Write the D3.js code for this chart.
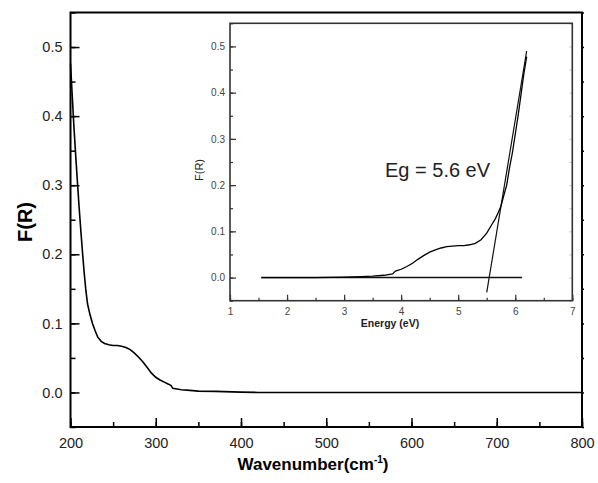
<!DOCTYPE html>
<html>
<head>
<meta charset="utf-8">
<script src="https://cdn.jsdelivr.net/npm/d3@7"></script>
<style>
  body { margin: 0; background: #fff; }
  svg { display: block; font-family: "Liberation Sans", Arial, sans-serif; }
  .tick text { fill: #222; }
  .inset .tick text { fill: #444; }
</style>
</head>
<body>
<svg id="chart" width="598" height="483"></svg>
<script>
// main spectrum, F(R) vs wavenumber
var wavenumber = [200, 202, 204, 206, 208, 210, 212, 214, 216, 218, 220, 223, 226, 229, 232, 236, 240, 245, 250, 255, 260, 265, 270, 275, 280, 285, 290, 295, 300, 305, 310, 315, 318, 320, 325, 330, 340, 350, 370, 400, 420, 500, 600, 700, 800];
var fr = [0.476, 0.43, 0.385, 0.345, 0.307, 0.27, 0.236, 0.204, 0.174, 0.148, 0.128, 0.112, 0.099, 0.089, 0.080, 0.074, 0.071, 0.069, 0.068, 0.068, 0.067, 0.065, 0.062, 0.057, 0.051, 0.044, 0.036, 0.028, 0.022, 0.018, 0.015, 0.012, 0.010, 0.006, 0.005, 0.004, 0.003, 0.002, 0.0015, 0.0005, 0, 0, 0, 0, 0];

// inset, F(R) vs energy
var energy = [1.55, 2.5, 3.0, 3.3, 3.5, 3.7, 3.85, 3.9, 4.0, 4.1, 4.2, 4.3, 4.4, 4.5, 4.6, 4.7, 4.8, 4.9, 5.0, 5.1, 5.2, 5.3, 5.4, 5.5, 5.6, 5.65, 5.7, 5.75, 5.8, 5.85, 5.9, 5.95, 6.0, 6.05, 6.1, 6.15, 6.2];
var frEnergy = [0, 0, 0.001, 0.002, 0.003, 0.005, 0.008, 0.014, 0.018, 0.024, 0.031, 0.040, 0.048, 0.055, 0.060, 0.064, 0.067, 0.068, 0.069, 0.069, 0.071, 0.074, 0.082, 0.096, 0.117, 0.127, 0.140, 0.155, 0.178, 0.200, 0.238, 0.270, 0.310, 0.350, 0.395, 0.440, 0.478];

// baseline and tangent used to read the band gap
var baseX = [1.55, 6.12], baseY = [0, 0];
var fitX = [5.50, 6.20], fitY = [-0.032, 0.49];

var mainXTicks = [200, 300, 400, 500, 600, 700, 800];
var mainYTicks = [0.0, 0.1, 0.2, 0.3, 0.4, 0.5];
var insetXTicks = [1, 2, 3, 4, 5, 6, 7];
var insetYTicks = [0.0, 0.1, 0.2, 0.3, 0.4, 0.5];
var gapLabel = 'Eg = 5.6 eV';

var svg = d3.select('#chart');

// ---- main plot
var x = d3.scaleLinear().domain([200, 800]).range([70.5, 582]);
var y = d3.scaleLinear().domain([-0.05, 0.55]).range([427, 12.5]);

function minorRange(a, b, step) {
  return d3.range(a, b + step / 2, step);
}

var gx = svg.append('g').attr('transform', 'translate(0,' + y.range()[0] + ')');
gx.call(d3.axisBottom(x).tickValues(minorRange(200, 800, 50)).tickFormat('').tickSize(-5).tickSizeOuter(0));
gx.append('g').call(d3.axisBottom(x).tickValues(mainXTicks).tickFormat(d3.format('d')).tickSize(-9).tickPadding(11).tickSizeOuter(0));
gx.selectAll('.domain').remove();

var gy = svg.append('g').attr('transform', 'translate(' + x.range()[0] + ',0)');
gy.call(d3.axisLeft(y).tickValues(minorRange(-0.05, 0.55, 0.05)).tickFormat('').tickSize(-5).tickSizeOuter(0));
gy.append('g').call(d3.axisLeft(y).tickValues(mainYTicks).tickFormat(d3.format('.1f')).tickSize(-9).tickPadding(8).tickSizeOuter(0));
gy.selectAll('.domain').remove();

// small outward ticks on the right edge
var gr = svg.append('g').attr('transform', 'translate(' + x.range()[1] + ',0)');
gr.call(d3.axisRight(y).tickValues(minorRange(-0.05, 0.55, 0.05)).tickFormat('').tickSize(2).tickSizeOuter(0));
gr.selectAll('.domain').remove();

svg.selectAll('.tick line').attr('stroke', '#000').attr('stroke-width', 1.5);
svg.selectAll('.tick text').style('font-size', '14.5px');

svg.append('path')
    .datum(d3.zip(wavenumber, fr))
    .attr('fill', 'none')
    .attr('stroke', '#000')
    .attr('stroke-width', 1.6)
    .attr('d', d3.line().x(function(d) { return x(d[0]); }).y(function(d) { return y(d[1]); }));

svg.append('rect')
    .attr('x', x.range()[0]).attr('y', y.range()[1])
    .attr('width', x.range()[1] - x.range()[0])
    .attr('height', y.range()[0] - y.range()[1])
    .attr('fill', 'none').attr('stroke', '#000').attr('stroke-width', 2);

svg.append('text')
    .attr('transform', 'translate(32,222) rotate(-90)')
    .attr('text-anchor', 'middle')
    .style('font-size', '20px').style('font-weight', 'bold')
    .text('F(R)');

var xt = svg.append('text')
    .attr('x', 313).attr('y', 470)
    .attr('text-anchor', 'middle')
    .style('font-size', '17px').style('font-weight', 'bold');
xt.append('tspan').text('Wavenumber(cm');
xt.append('tspan').attr('dy', -7).style('font-size', '10px').text('-1');
xt.append('tspan').attr('dy', 7).text(')');

// ---- inset
var ix = d3.scaleLinear().domain([1, 7]).range([230, 572.3]);
var iy = d3.scaleLinear().domain([-0.05, 0.55]).range([300.7, 23.3]);

var inset = svg.append('g').attr('class', 'inset');

inset.append('rect')
    .attr('x', ix.range()[0]).attr('y', iy.range()[1])
    .attr('width', ix.range()[1] - ix.range()[0])
    .attr('height', iy.range()[0] - iy.range()[1])
    .attr('fill', '#fff');

var igx = inset.append('g').attr('transform', 'translate(0,' + iy.range()[0] + ')');
igx.call(d3.axisBottom(ix).tickValues(minorRange(1, 7, 0.5)).tickFormat('').tickSize(-3).tickSizeOuter(0));
igx.append('g').call(d3.axisBottom(ix).tickValues(insetXTicks).tickFormat(d3.format('d')).tickSize(-6).tickPadding(7).tickSizeOuter(0));
igx.selectAll('.domain').remove();

var igy = inset.append('g').attr('transform', 'translate(' + ix.range()[0] + ',0)');
igy.call(d3.axisLeft(iy).tickValues(minorRange(-0.05, 0.55, 0.05)).tickFormat('').tickSize(-3).tickSizeOuter(0));
igy.append('g').call(d3.axisLeft(iy).tickValues(insetYTicks).tickFormat(d3.format('.1f')).tickSize(-6).tickPadding(5).tickSizeOuter(0));
igy.selectAll('.domain').remove();

inset.selectAll('.tick line').attr('stroke', '#333').attr('stroke-width', 1.2);

// faint ticks on the inset right edge
var igr = inset.append('g').attr('transform', 'translate(' + ix.range()[1] + ',0)');
igr.call(d3.axisRight(iy).tickValues(minorRange(-0.05, 0.55, 0.05)).tickFormat('').tickSize(-3).tickSizeOuter(0));
igr.selectAll('.domain').remove();
igr.selectAll('.tick line').attr('stroke', '#ccc').attr('stroke-width', 1);

inset.selectAll('.tick text').style('font-size', '10px');

var iline = d3.line().x(function(d) { return ix(d[0]); }).y(function(d) { return iy(d[1]); });

inset.append('path')
    .datum(d3.zip(baseX, baseY))
    .attr('fill', 'none').attr('stroke', '#111').attr('stroke-width', 1.5)
    .attr('d', iline);

inset.append('path')
    .datum(d3.zip(fitX, fitY))
    .attr('fill', 'none').attr('stroke', '#111').attr('stroke-width', 1.2)
    .attr('d', iline);

inset.append('path')
    .datum(d3.zip(energy, frEnergy))
    .attr('fill', 'none').attr('stroke', '#000').attr('stroke-width', 1.3)
    .attr('d', iline);

inset.append('rect')
    .attr('x', ix.range()[0]).attr('y', iy.range()[1])
    .attr('width', ix.range()[1] - ix.range()[0])
    .attr('height', iy.range()[0] - iy.range()[1])
    .attr('fill', 'none').attr('stroke', '#333').attr('stroke-width', 1.6);

inset.append('text')
    .attr('transform', 'translate(203,170) rotate(-90)')
    .attr('text-anchor', 'middle')
    .style('font-size', '11px').style('fill', '#222')
    .text('F(R)');

inset.append('text')
    .attr('x', 390).attr('y', 327)
    .attr('text-anchor', 'middle')
    .style('font-size', '10.5px').style('font-weight', 'bold').style('fill', '#222')
    .text('Energy (eV)');

inset.append('text')
    .attr('x', 385).attr('y', 177)
    .style('font-size', '20px').style('fill', '#222')
    .text(gapLabel);
</script>
</body>
</html>
